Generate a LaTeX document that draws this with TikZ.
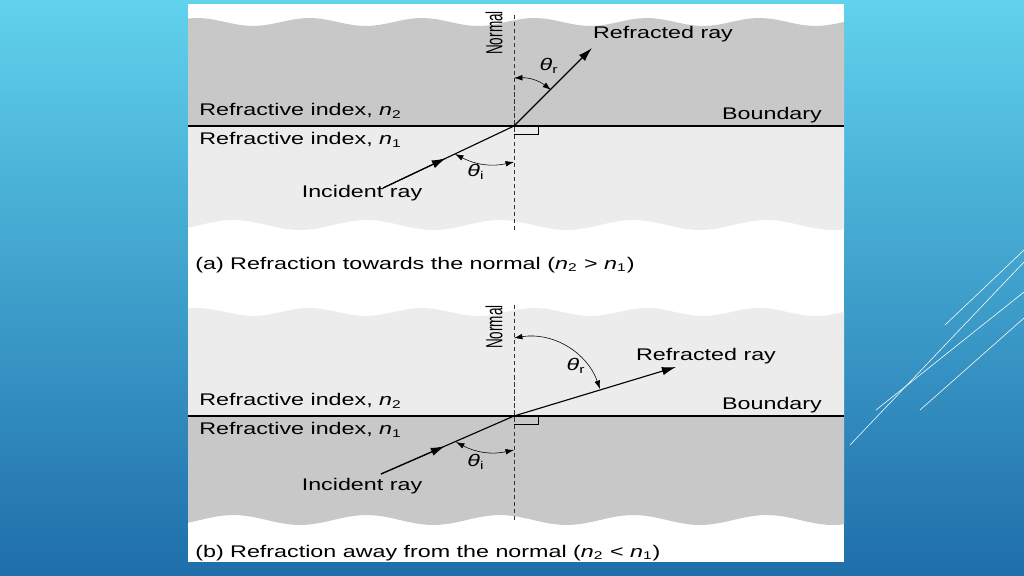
\documentclass[tikz,border=0pt]{standalone}
\usepackage{fontspec}
\setmainfont{Liberation Sans}
\usetikzlibrary{positioning,calc,arrows.meta}
\definecolor{darkgrey}{RGB}{200,200,200}
\definecolor{lightgrey}{RGB}{236,236,236}
\definecolor{skytop}{RGB}{96,210,236}
\definecolor{skybot}{RGB}{30,110,170}
\tikzset{
  lbl/.style={font=\fontsize{12}{14}\selectfont, inner sep=1pt, xscale=1.38},
  ray/.style={thick, -{Latex[length=10pt,width=6pt]}},
  midarrow/.style={-{Latex[length=10pt,width=6pt]}, thick},
  angarrow/.style={{Latex[length=6pt,width=4pt]}-{Latex[length=6pt,width=4pt]}},
  normalline/.style={densely dashed, thin, gray!40!black},
  deco/.style={white, thin}
}
\newcommand{\nsub}[1]{\textit{n}\textsubscript{#1}}
\newcommand{\thsub}[1]{\textit{θ}\textsubscript{#1}}
\begin{document}
\begin{tikzpicture}[x=0.025cm,y=-0.025cm]
  \useasboundingbox (0,0) rectangle (1024,576);
  % background
  \shade[top color=skytop, bottom color=skybot] (0,0) rectangle (1024,576);
  \draw[deco] (850,445) -- (1024,262);
  \draw[deco] (876,410) -- (1024,292);
  \draw[deco] (920,410) -- (1024,318);
  \draw[deco] (945,325) -- (1024,250);
  \fill[white] (188,4) rectangle (844,562);
  % panel (a)
  \fill[darkgrey] (188,126) -- plot[domain=188:844,samples=80] (\x,{22+4*sin(\x*3.2)}) -- (844,126) -- cycle;
  \fill[lightgrey] (188,126) -- (844,126) -- plot[domain=844:188,samples=80] (\x,{225+5*sin(\x*2.7)}) -- cycle;
  \draw[thick] (188,126) -- (844,126);
  \coordinate (Oa) at (514,126);
  \coordinate (NaT) at (514,15);
  \coordinate (NaB) at (514,230);
  \draw[normalline] (NaT) -- (NaB);
  \draw (514,134) -| (538,126);
  \coordinate (Ia) at (383,188);
  \coordinate (Ra) at (592,48);
  \draw[ray] (Oa) -- (Ra);
  \draw[thick] (Ia) -- (Oa);
  \draw[midarrow] (Ia) -- ($(Ia)!0.48!(Oa)$);
  \draw[angarrow] (514,78) to[bend left=20] (551,90);
  \draw[angarrow] (455,154) to[bend right=20] (514,162);
  \node[lbl] (ra) at (663,34) {Refracted ray};
  \node[lbl] (bda) at (772,115) {Boundary};
  \node[lbl, anchor=west] (n2a) at (197,111) {Refractive index, \nsub{2}};
  \node[lbl, anchor=west] (n1a) at (197,140) {Refractive index, \nsub{1}};
  \node[lbl] (ia) at (362,193) {Incident ray};
  \node[lbl, rotate=90, xscale=0.8] (na) at (494,33) {Normal};
  \node[lbl] (tia) at (476,172) {\thsub{i}};
  \node[lbl] (tra) at (549,66) {\thsub{r}};
  \node[lbl, anchor=west] (capa) at (193,265) {(a) Refraction towards the normal (\nsub{2} > \nsub{1})};
  % panel (b)
  \fill[lightgrey] (188,416) -- plot[domain=188:844,samples=80] (\x,{312+4*sin(\x*3.2)}) -- (844,416) -- cycle;
  \fill[darkgrey] (188,416) -- (844,416) -- plot[domain=844:188,samples=80] (\x,{520+5*sin(\x*2.7)}) -- cycle;
  \draw[thick] (188,416) -- (844,416);
  \coordinate (Ob) at (514,416);
  \coordinate (NbT) at (514,305);
  \coordinate (NbB) at (514,522);
  \draw[normalline] (NbT) -- (NbB);
  \draw (514,424) -| (538,416);
  \coordinate (Ib) at (381,474);
  \coordinate (Rb) at (676,367);
  \draw[ray] (Ob) -- (Rb);
  \draw[thick] (Ib) -- (Ob);
  \draw[midarrow] (Ib) -- ($(Ib)!0.48!(Ob)$);
  \draw[angarrow] (514,338) to[bend left=40] (600,389);
  \draw[angarrow] (456,442) to[bend right=20] (514,450);
  \node[lbl] (rb) at (706,356) {Refracted ray};
  \node[lbl] (bdb) at (772,405) {Boundary};
  \node[lbl, anchor=west] (n2b) at (197,401) {Refractive index, \nsub{2}};
  \node[lbl, anchor=west] (n1b) at (197,430) {Refractive index, \nsub{1}};
  \node[lbl] (ib) at (362,486) {Incident ray};
  \node[lbl, rotate=90, xscale=0.8] (nb) at (494,327) {Normal};
  \node[lbl] (tib) at (476,462) {\thsub{i}};
  \node[lbl] (trb) at (576,366) {\thsub{r}};
  \node[lbl, anchor=west] (capb) at (193,553) {(b) Refraction away from the normal (\nsub{2} < \nsub{1})};
\end{tikzpicture}
\end{document}
